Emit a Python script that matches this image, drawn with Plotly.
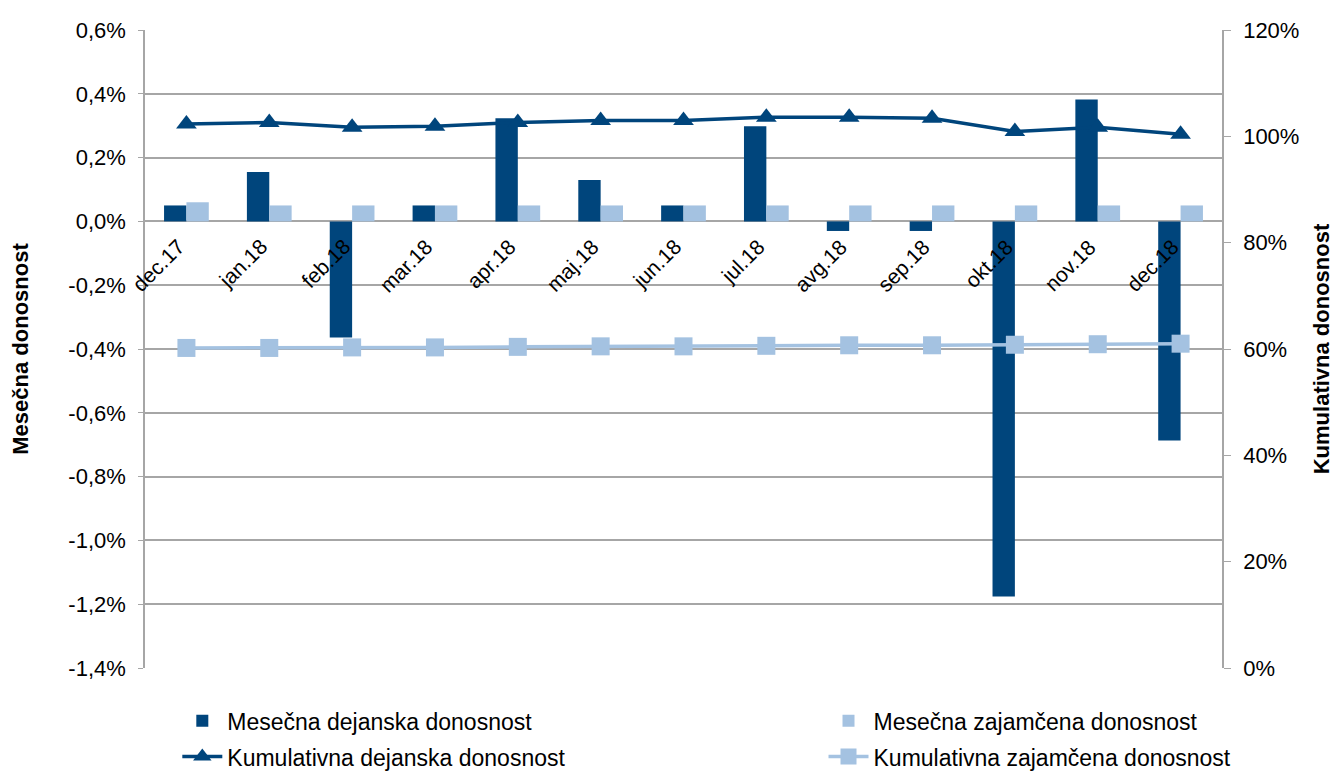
import plotly.graph_objects as go

categories = ["dec.17", "jan.18", "feb.18", "mar.18", "apr.18", "maj.18", "jun.18",
              "jul.18", "avg.18", "sep.18", "okt.18", "nov.18", "dec.18"]
mes_dejanska = [0.0005, 0.00155, -0.00364, 0.0005, 0.00323, 0.0013, 0.0005,
                0.00298, -0.0003, -0.0003, -0.01176, 0.00382, -0.00687]
mes_zajamcena = [0.0006, 0.0005, 0.0005, 0.0005, 0.0005, 0.0005, 0.0005,
                 0.0005, 0.0005, 0.0005, 0.0005, 0.0005, 0.0005]
kum_dejanska = [1.023, 1.026, 1.017, 1.019, 1.026, 1.030, 1.030,
                1.036, 1.036, 1.034, 1.009, 1.017, 1.004]
kum_zajamcena = [0.602, 0.602, 0.603, 0.603, 0.604, 0.605, 0.605,
                 0.606, 0.607, 0.607, 0.608, 0.609, 0.610]
left_tickvals = [-0.014, -0.012, -0.010, -0.008, -0.006, -0.004, -0.002, 0.0, 0.002, 0.004, 0.006]
left_ticktext = ["-1,4%", "-1,2%", "-1,0%", "-0,8%", "-0,6%", "-0,4%", "-0,2%",
                 "0,0%", "0,2%", "0,4%", "0,6%"]

DARK = "#00457C"
LIGHT = "#A4C2E1"
GRID = "#A6A6A6"
FONT = "Liberation Sans, Arial, sans-serif"

fig = go.Figure()
fig.add_trace(go.Bar(x=categories, y=mes_dejanska, name="Mesečna dejanska donosnost",
                     marker=dict(color=DARK, line=dict(width=0)), legend="legend",
                     legendgroup="a"))
fig.add_trace(go.Bar(x=categories, y=mes_zajamcena, name="Mesečna zajamčena donosnost",
                     marker=dict(color=LIGHT, line=dict(width=0)), legend="legend2",
                     legendgroup="c"))
fig.add_trace(go.Scatter(x=categories, y=kum_dejanska, yaxis="y2", mode="lines+markers",
                         name="Kumulativna dejanska donosnost",
                         line=dict(color=DARK, width=3.5),
                         marker=dict(symbol="triangle-up", size=18, color=DARK),
                         legend="legend", legendgroup="b"))
fig.add_trace(go.Scatter(x=categories, y=kum_zajamcena, yaxis="y2", mode="lines+markers",
                         name="Kumulativna zajamčena donosnost",
                         line=dict(color=LIGHT, width=3.5),
                         marker=dict(symbol="square", size=18, color=LIGHT),
                         legend="legend2", legendgroup="d"))

annotations = []
for c in categories:
    annotations.append(dict(x=c, y=0, xref="x", yref="y", text=c, showarrow=False,
                            textangle=-45, xanchor="right", yanchor="top",
                            xshift=5, yshift=-11,
                            font=dict(family=FONT, size=21, color="#000000")))

fig.update_layout(
    width=1334, height=771,
    margin=dict(l=145, r=112, t=30, b=103, autoexpand=False),
    paper_bgcolor="white", plot_bgcolor="white",
    font=dict(family=FONT, size=20, color="#000000"),
    barmode="group", bargap=0.46, bargroupgap=0,
    annotations=annotations,
    xaxis=dict(type="category", range=[-0.5, 12.5], showticklabels=False,
               showgrid=False, showline=False, zeroline=False, ticks=""),
    yaxis=dict(range=[-0.014, 0.006], tickmode="array", tickvals=left_tickvals,
               ticktext=left_ticktext,
               showgrid=True, gridcolor=GRID, gridwidth=1.5,
               zeroline=True, zerolinecolor=GRID, zerolinewidth=1.5,
               showline=True, linecolor=GRID, linewidth=1.5,
               ticks="outside", ticklen=5, tickcolor=GRID, ticklabelstandoff=8,
               tickfont=dict(family=FONT, size=22),
               title=dict(text="<b>Mesečna donosnost</b>", standoff=34,
                          font=dict(family=FONT, size=22))),
    yaxis2=dict(range=[0, 1.2], dtick=0.2, tick0=0, tickformat=".0%", overlaying="y",
                side="right", showgrid=False, zeroline=False,
                showline=True, linecolor=GRID, linewidth=1.5,
                ticks="outside", ticklen=7, tickcolor=GRID, ticklabelstandoff=8,
                tickfont=dict(family=FONT, size=22),
                title=dict(text="<b>Kumulativna donosnost</b>", standoff=20,
                           font=dict(family=FONT, size=22))),
    legend=dict(x=0.03, y=-0.049, xanchor="left", yanchor="top", orientation="v",
                tracegroupgap=3, font=dict(family=FONT, size=23), itemwidth=40,
                bgcolor="rgba(0,0,0,0)", traceorder="grouped"),
    legend2=dict(x=0.63, y=-0.049, xanchor="left", yanchor="top", orientation="v",
                 tracegroupgap=3, font=dict(family=FONT, size=23), itemwidth=40,
                 bgcolor="rgba(0,0,0,0)", traceorder="grouped"),
)

fig.write_html("out.html")
